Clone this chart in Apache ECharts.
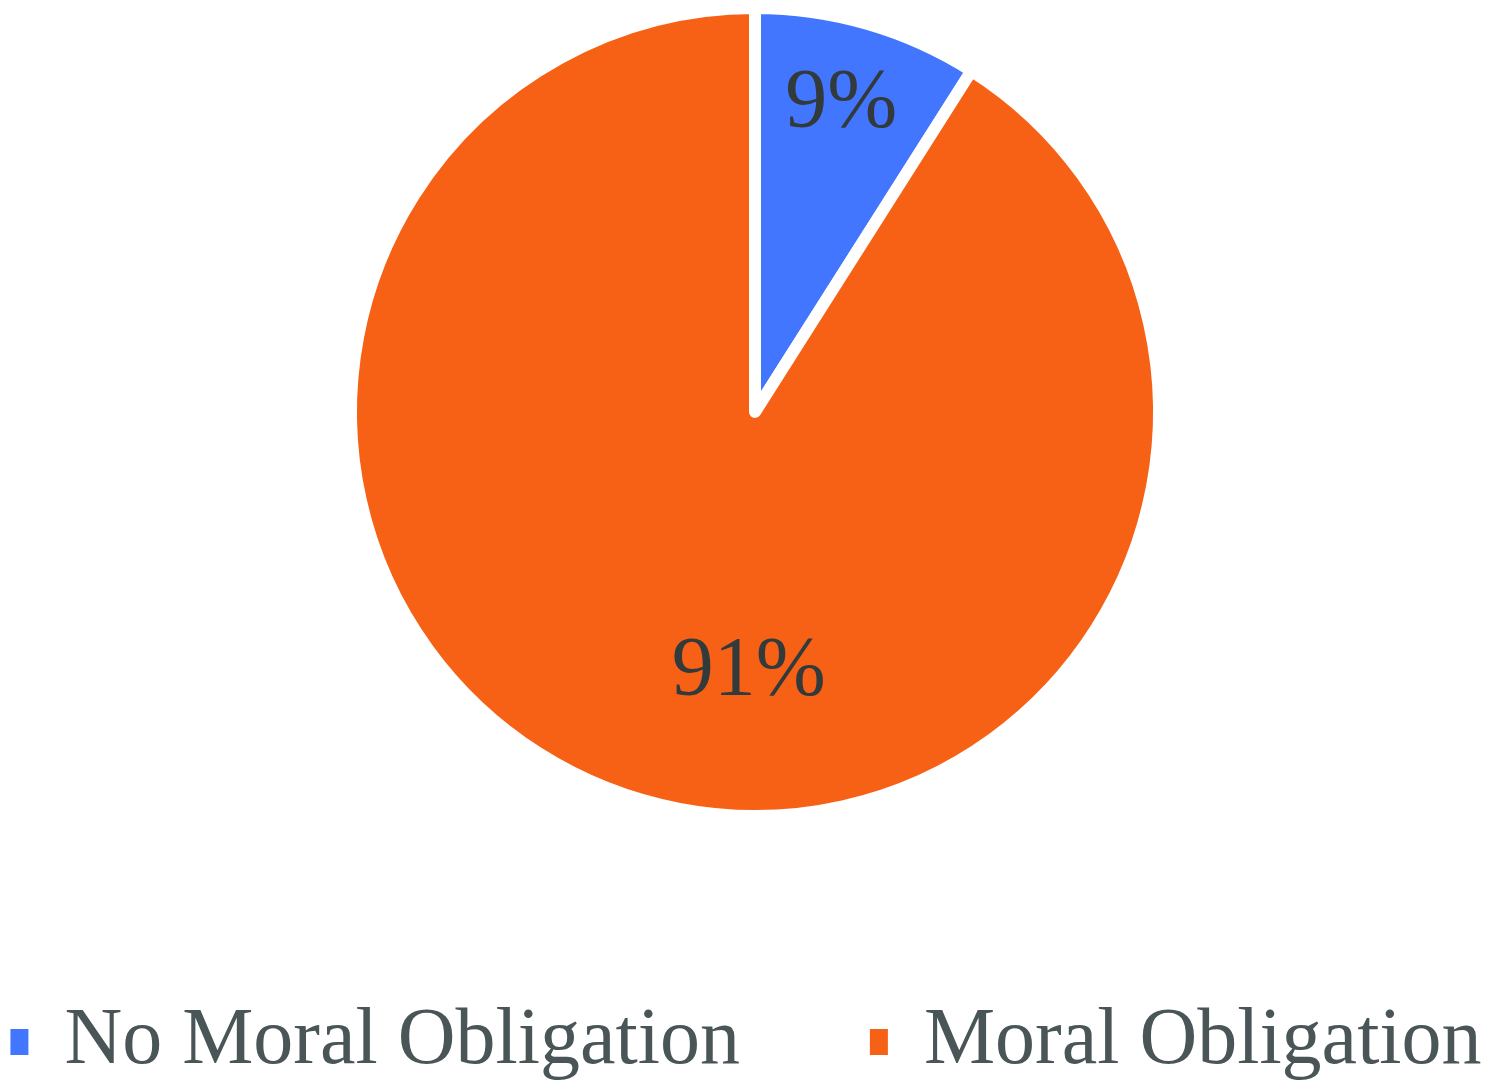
<!DOCTYPE html>
<html lang="en">
<head>
    <meta charset="UTF-8">
    <title>Moral Obligation</title>
    <script src="https://cdn.jsdelivr.net/npm/echarts@6/dist/echarts.min.js"></script>
    <style>
        html, body { margin: 0; padding: 0; background: #fff; }
        #chart { width: 1490px; height: 1089px; }
    </style>
</head>
<body>
<div id="chart"></div>
<script>
    var categories = ['No Moral Obligation', 'Moral Obligation'];
    var values = [9, 91];
    var colors = ['#4376FE', '#F76115'];
    // nudge labels toward where the original sits
    var labelOffsets = [[29, -110], [51, 64]];

    var myChart = echarts.init(document.getElementById('chart'));

    var data = [];
    for (var i = 0; i < categories.length; i++) {
        data.push({
            name: categories[i],
            value: values[i],
            itemStyle: { color: colors[i] },
            label: { offset: labelOffsets[i] }
        });
    }

    var option = {
        animation: false,
        legend: {
            bottom: 2,
            left: 'center',
            itemWidth: 20,
            itemHeight: 28,
            itemGap: 128,
            icon: 'rect',
            textStyle: {
                fontFamily: 'Liberation Serif',
                fontSize: 80,
                color: '#4A5557',
                padding: [0, 0, 0, 30]
            },
            data: categories
        },
        series: [
            {
                type: 'pie',
                center: [755, 412],
                radius: [0, 404],
                startAngle: 90,
                clockwise: true,
                itemStyle: {
                    borderColor: '#ffffff',
                    borderWidth: 12
                },
                label: {
                    show: true,
                    position: 'inside',
                    formatter: '{c}%',
                    fontFamily: 'Liberation Serif',
                    fontSize: 84,
                    color: '#333A3C'
                },
                labelLine: { show: false },
                emphasis: { disabled: true },
                data: data
            }
        ]
    };
    myChart.setOption(option);
</script>
</body>
</html>
